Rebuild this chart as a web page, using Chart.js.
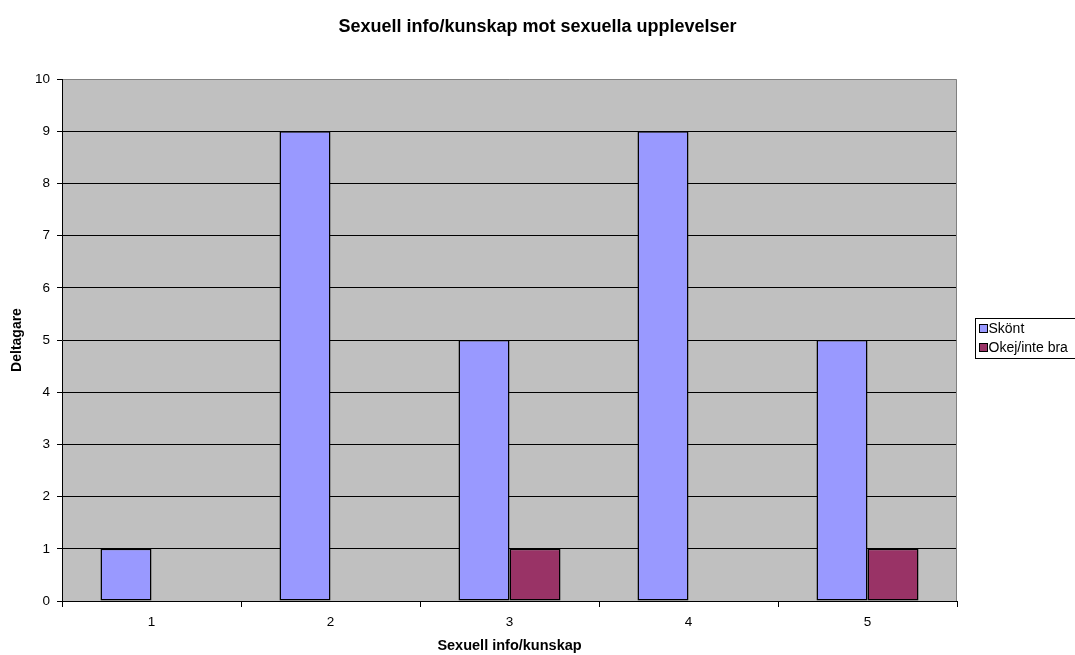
<!DOCTYPE html>
<html>
<head>
<meta charset="utf-8">
<script src="https://cdn.jsdelivr.net/npm/chart.js@4/dist/chart.umd.min.js"></script>
<style>
  html, body { margin: 0; padding: 0; background: #ffffff; }
  #wrap { width: 1075px; height: 655px; position: relative; }
</style>
</head>
<body>
<div id="wrap"><canvas id="c" width="1075" height="655"></canvas></div>
<script>
// Knowledge level (1-5) on the x axis
const categories = ['1', '2', '3', '4', '5'];
// Number of participants per experience answer
const skontValues = [1, 9, 5, 9, 5];
const okejValues = [0, 0, 1, 0, 1];
const seriesLabels = ['Skönt', 'Okej/inte bra'];
const seriesColors = ['#9999ff', '#993366'];
const chartTitle = 'Sexuell info/kunskap mot sexuella upplevelser';

const FONT = 'Arial, "Liberation Sans", sans-serif';

// Grey plot background with a grey frame on top and right
const plotBackground = {
  id: 'plotBackground',
  beforeDraw(chart) {
    const { ctx, chartArea: a } = chart;
    ctx.save();
    ctx.fillStyle = '#c0c0c0';
    ctx.fillRect(a.left, a.top, a.right - a.left, a.bottom - a.top);
    ctx.restore();
  },
  afterDatasetsDraw(chart) {
    const { ctx, chartArea: a } = chart;
    ctx.save();
    ctx.strokeStyle = '#808080';
    ctx.lineWidth = 1;
    ctx.beginPath();
    ctx.moveTo(a.left + 1, a.top + 0.5);
    ctx.lineTo(a.right - 0.5, a.top + 0.5);
    ctx.lineTo(a.right - 0.5, a.bottom);
    ctx.stroke();
    ctx.restore();
  }
};

// Title centred across the whole canvas
const plotTitle = {
  id: 'plotTitle',
  afterDraw(chart) {
    const { ctx } = chart;
    ctx.save();
    ctx.font = 'bold 18px ' + FONT;
    ctx.fillStyle = '#000000';
    ctx.textAlign = 'center';
    ctx.textBaseline = 'middle';
    ctx.fillText(chartTitle, chart.width / 2, 27);
    ctx.restore();
  }
};

// Boxed legend on the right side
const boxLegend = {
  id: 'boxLegend',
  afterDraw(chart) {
    const { ctx } = chart;
    const x = 975.5, y = 318.5, w = 110, h = 40;
    ctx.save();
    ctx.fillStyle = '#ffffff';
    ctx.fillRect(x, y, w, h);
    ctx.strokeStyle = '#000000';
    ctx.lineWidth = 1;
    ctx.strokeRect(x, y, w, h);
    ctx.font = '14px ' + FONT;
    ctx.textBaseline = 'middle';
    chart.data.datasets.forEach((ds, i) => {
      const cy = 328.5 + i * 19;
      ctx.fillStyle = ds.backgroundColor;
      ctx.fillRect(979.5, cy - 4, 8, 8);
      ctx.strokeStyle = '#000000';
      ctx.strokeRect(979.5, cy - 4, 8, 8);
      ctx.fillStyle = '#000000';
      ctx.fillText(ds.label, 988.5, cy + 0.5);
    });
    ctx.restore();
  }
};

new Chart(document.getElementById('c'), {
  type: 'bar',
  data: {
    labels: categories,
    datasets: [
      { label: seriesLabels[0], data: skontValues, backgroundColor: seriesColors[0],
        borderColor: '#000000', borderWidth: 1.5, borderSkipped: false },
      { label: seriesLabels[1], data: okejValues, backgroundColor: seriesColors[1],
        borderColor: '#000000', borderWidth: 1.5, borderSkipped: false }
    ]
  },
  options: {
    responsive: false,
    animation: false,
    devicePixelRatio: 1,
    layout: { padding: { left: 0, right: 118, top: 79, bottom: 0 } },
    datasets: { bar: { barPercentage: 1, categoryPercentage: 0.57 } },
    plugins: {
      legend: { display: false },
      tooltip: { enabled: false },
      title: { display: false }
    },
    scales: {
      x: {
        grid: { display: true, drawOnChartArea: false, color: '#000000', tickLength: 6, offset: true },
        border: { display: true, color: '#000000' },
        ticks: { color: '#000000', font: { family: FONT, size: 13.5 }, padding: 7 },
        title: {
          display: true, text: 'Sexuell info/kunskap', color: '#000000',
          font: { family: FONT, size: 14.5, weight: 'bold' }, padding: { top: 4, bottom: 0 }
        },
        afterFit(scale) { scale.height = 54; }
      },
      y: {
        min: 0, max: 10,
        ticks: { stepSize: 1, color: '#000000', font: { family: FONT, size: 13.5 }, padding: 7 },
        grid: {
          color: (c) => (c.tick && c.tick.value === 10 ? 'rgba(0,0,0,0)' : '#000000'),
          tickColor: '#000000',
          tickLength: 5
        },
        border: { display: true, color: '#000000' },
        title: {
          display: true, text: 'Deltagare', color: '#000000',
          font: { family: FONT, size: 14, weight: 'bold' }, padding: { top: 9, bottom: 2 }
        },
        afterFit(scale) { scale.width = 62; }
      }
    }
  },
  plugins: [plotBackground, plotTitle, boxLegend]
});
</script>
</body>
</html>
